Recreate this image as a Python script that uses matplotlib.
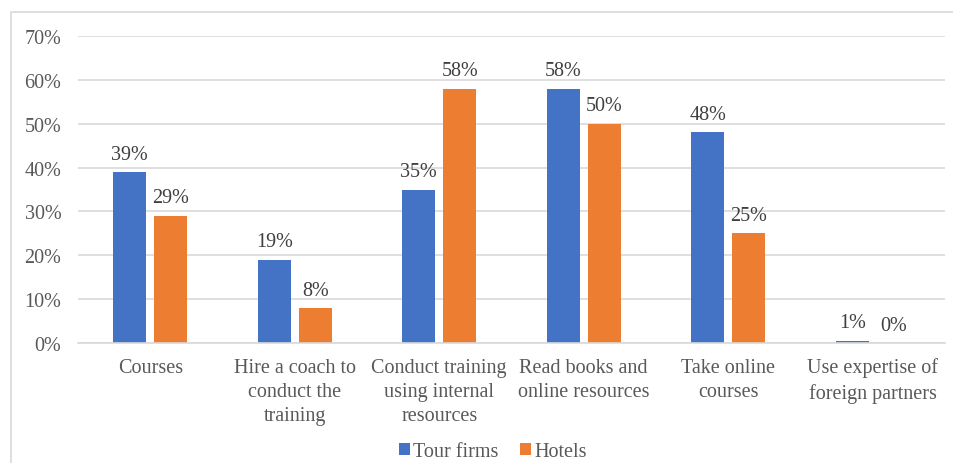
import matplotlib
matplotlib.use("Agg")
import matplotlib.pyplot as plt
from matplotlib.patches import Rectangle
import numpy as np

categories = ["Courses", "Hire a coach to\nconduct the\ntraining", "Conduct training\nusing internal\nresources",
              "Read books and\nonline resources", "Take online\ncourses", "Use expertise of\nforeign partners"]
tour_firms = [0.39, 0.19, 0.35, 0.58, 0.48, 0.005]
hotels = [0.29, 0.08, 0.58, 0.50, 0.25, 0.00]
series_names = ["Tour firms", "Hotels"]
yticks = [0, 0.1, 0.2, 0.3, 0.4, 0.5, 0.6, 0.7]

plt.rcParams['font.family'] = ['Liberation Serif', 'DejaVu Serif']
fs = 14.5
fig = plt.figure(figsize=(9.54, 4.64), dpi=100)
W, H = 954, 464
fig.patches.append(Rectangle((11 / W, -0.1), 1.2, 1 - 13 / H + 0.1, transform=fig.transFigure,
                             fill=False, edgecolor="#d9d9d9", linewidth=1.2))
ax = fig.add_axes([78 / W, 1 - 344 / H, (945 - 78) / W, (344 - 37) / H])

x = np.arange(len(categories))
bw = 0.228
gap = 0.056
off = (bw + gap) / 2
tc = "#595959"
for vals, c, dx, name in [(tour_firms, "#4472C4", -off, series_names[0]), (hotels, "#ED7D31", off, series_names[1])]:
    bars = ax.bar(x + dx, vals, bw, color=c, label=name, zorder=3)
    for b, v in zip(bars, vals):
        ax.annotate(f"{int(v * 100 + 0.5 + 1e-9)}%", (b.get_x() + b.get_width() / 2, v), xytext=(0, 6),
                    textcoords="offset points", ha="center", va="bottom", fontsize=fs, color="#404040")

ax.set_xlim(-0.5, len(categories) - 0.5)
ax.set_ylim(0, 0.7)
ax.set_yticks(yticks)
ax.set_yticklabels([f"{t*100:.0f}%" for t in yticks], fontsize=fs, color=tc)
ax.set_xticks(x)
ax.set_xticklabels(categories, fontsize=fs, color=tc, linespacing=1.38)
ax.tick_params(length=0, pad=12)
ax.tick_params(axis="x", pad=10.5)
ax.grid(axis="y", color="#d9d9d9", linewidth=1.2, zorder=0)
for s in ["top", "right", "left"]:
    ax.spines[s].set_visible(False)
ax.spines["bottom"].set_color("#d9d9d9")
ax.spines["bottom"].set_linewidth(1.2)
ax.spines["bottom"].set_zorder(4)

leg = fig.legend(loc="center", bbox_to_anchor=(493 / W, 1 - 453 / H), ncol=2, frameon=False,
                 fontsize=fs, handlelength=0.55, handleheight=0.55, handletextpad=0.15, columnspacing=1.05)
for t in leg.get_texts():
    t.set_color(tc)

fig.savefig("out.png", dpi=100)
